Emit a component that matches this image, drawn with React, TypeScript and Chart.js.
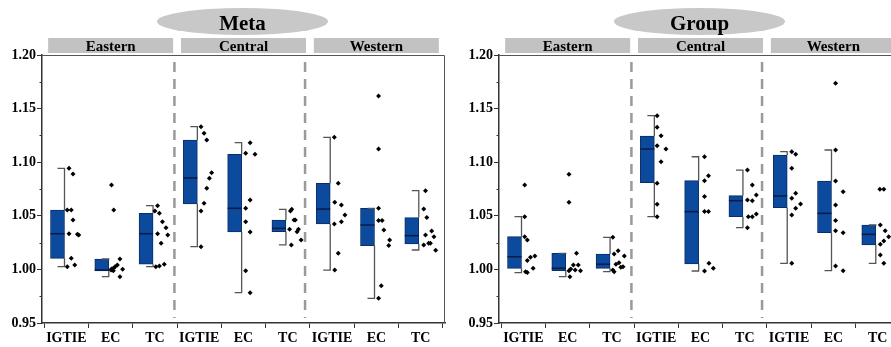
import React, { useEffect, useRef } from "react";
import { Chart, registerables } from "chart.js";

Chart.register(...registerables);

// ---------- data ----------
const categories = ["IGTIE", "EC", "TC", "IGTIE", "EC", "TC", "IGTIE", "EC", "TC"];
const regions = ["Eastern", "Central", "Western"];
const yMin = 0.95;
const yMax = 1.2;
const yStep = 0.025;

// Meta panel: box statistics per category
const metaLow = [1.0025, 0.9932, 1.0025, 1.0212, 0.9783, 1.0228, 0.9994, 0.973, 1.0181];
const metaQ1 = [1.0103, 0.9985, 1.0048, 1.061, 1.0349, 1.0352, 1.0424, 1.0222, 1.0237];
const metaMedian = [1.0333, 0.9994, 1.0333, 1.0853, 1.057, 1.0383, 1.0563, 1.0414, 1.0315];
const metaQ3 = [1.0554, 1.0097, 1.0523, 1.1207, 1.1074, 1.0461, 1.0803, 1.057, 1.0483];
const metaHigh = [1.0943, 1.0097, 1.0594, 1.1331, 1.1182, 1.056, 1.1232, 1.057, 1.0734];

const metaPoints = [
  [1.0943, 1.089, 1.0554, 1.0554, 1.0461, 1.0333, 1.0327, 1.0321, 1.0103, 1.0041, 1.0025],
  [1.0787, 1.0554, 1.0097, 1.0041, 1.0025, 1.001, 1.0004, 0.9995, 1.0001, 0.9988, 0.9932],
  [1.0594, 1.0545, 1.0523, 1.0445, 1.0389, 1.0333, 1.0321, 1.0243, 1.0025, 1.0031, 1.0048],
  [1.1331, 1.127, 1.1207, 1.0902, 1.085, 1.0756, 1.0616, 1.0545, 1.0212],
  [1.1182, 1.1083, 1.1074, 1.0647, 1.057, 1.0445, 1.0349, 0.9988, 0.9783],
  [1.056, 1.0545, 1.0461, 1.0461, 1.0374, 1.0374, 1.0352, 1.0274, 1.0228],
  [1.1232, 1.0803, 1.0626, 1.0601, 1.0507, 1.0445, 1.0424, 1.015, 0.9994],
  [1.1618, 1.1123, 1.057, 1.0455, 1.0455, 1.0368, 1.0274, 1.0222, 0.9848, 0.973],
  [1.0734, 1.0563, 1.0483, 1.0321, 1.0358, 1.0305, 1.0243, 1.0243, 1.0228, 1.0178],
];
const metaJitter = [
  [0.06, 0.15, 0.02, 0.11, 0.15, 0.06, 0.25, 0.28, 0.11, 0.19, 0.02],
  [0.02, 0.07, 0.21, 0.15, 0.1, 0.06, 0.02, 0.01, 0.27, 0.06, 0.21],
  [0.06, 0.0, 0.1, 0.17, 0.25, 0.06, 0.29, 0.14, 0.02, 0.1, 0.21],
  [0.04, 0.11, 0.17, 0.28, 0.23, 0.17, 0.11, 0.04, 0.04],
  [0.15, 0.05, 0.26, 0.15, 0.05, 0.05, 0.15, 0.05, 0.15],
  [0.09, 0.06, 0.14, 0.17, 0.04, 0.24, 0.21, 0.3, 0.08],
  [0.05, 0.14, 0.06, 0.21, 0.29, 0.21, 0.05, 0.14, 0.06],
  [0.05, 0.05, 0.05, 0.05, 0.13, 0.17, 0.3, 0.28, 0.11, 0.05],
  [0.11, 0.07, 0.14, 0.11, 0.25, 0.3, 0.18, 0.22, 0.07, 0.34],
];

// Group panel: box statistics per category
const groupLow = [0.997, 0.9932, 0.9979, 1.0492, 0.9985, 1.0389, 1.0057, 0.9988, 1.0057];
const groupQ1 = [1.001, 0.9988, 1.001, 1.0809, 1.005, 1.0492, 1.0576, 1.0343, 1.0228];
const groupMedian = [1.0118, 1.001, 1.0048, 1.1123, 1.0539, 1.0641, 1.0685, 1.0523, 1.0327];
const groupQ3 = [1.0305, 1.015, 1.0144, 1.1244, 1.0828, 1.0688, 1.1067, 1.0825, 1.0414];
const groupHigh = [1.0492, 1.015, 1.0299, 1.1434, 1.1051, 1.0927, 1.1098, 1.1114, 1.0414];

const groupPoints = [
  [1.0787, 1.0492, 1.0305, 1.0274, 1.0082, 1.0113, 1.0125, 1.001, 0.9979, 0.997],
  [1.0887, 1.0626, 1.015, 1.0041, 1.0041, 1.0004, 0.9988, 0.9994, 0.9988, 0.9932],
  [1.0299, 1.0144, 1.0175, 1.0125, 1.0048, 1.0063, 1.002, 1.0025, 0.9994, 0.9979],
  [1.1434, 1.1326, 1.1247, 1.1154, 1.1123, 1.1005, 1.0803, 1.0607, 1.0492],
  [1.1051, 1.0874, 1.0828, 1.0679, 1.0539, 1.0539, 1.0057, 1.001, 0.9985],
  [1.0927, 1.0787, 1.0694, 1.0647, 1.0641, 1.0517, 1.0492, 1.0492, 1.0389],
  [1.1098, 1.1074, 1.0943, 1.071, 1.0663, 1.061, 1.057, 1.0507, 1.0057],
  [1.1736, 1.1114, 1.0825, 1.0725, 1.0601, 1.0455, 1.0361, 1.0343, 1.0032, 0.9988],
  [1.0747, 1.0747, 1.0414, 1.0361, 1.0305, 1.0265, 1.0234, 1.0134, 1.0057],
];
const groupJitter = [
  [0.03, 0.03, 0.03, 0.09, 0.09, 0.16, 0.26, 0.22, 0.05, 0.09],
  [0.03, 0.03, 0.2, 0.13, 0.24, 0.07, 0.03, 0.17, 0.29, 0.05],
  [0.02, 0.05, 0.14, 0.28, 0.09, 0.16, 0.2, 0.25, 0.02, 0.05],
  [0.02, 0.02, 0.11, 0.02, 0.22, 0.11, 0.02, 0.02, 0.02],
  [0.09, 0.18, 0.09, 0.09, 0.09, 0.18, 0.19, 0.29, 0.09],
  [0.06, 0.17, 0.26, 0.06, 0.17, 0.26, 0.17, 0.08, 0.06],
  [0.06, 0.15, 0.06, 0.15, 0.06, 0.26, 0.15, 0.06, 0.06],
  [0.05, 0.05, 0.05, 0.22, 0.05, 0.05, 0.05, 0.22, 0.05, 0.22],
  [0.05, 0.14, 0.06, 0.17, 0.25, 0.14, 0.06, 0.06, 0.14],
];

// region separators (in x-axis units)
const dividers = [2.44, 5.39];

// ---------- style ----------
const FONT = '"Liberation Serif", "Times New Roman", serif';
const BOX_FILL = "#0c4a9d";
const BOX_EDGE = "#0a2d66";
const MEDIAN = "#081a45";
const WHISKER = "#555555";
const AXIS = "#333333";
const BOX_SHIFT = -0.2;
const BOX_W = 14;
const CAP_W = 7;
const CANVAS_W = 450;
const CANVAS_H = 347;

const isMajor = (n: number) => Math.abs(n * 20 - Math.round(n * 20)) < 1e-6;

type PanelProps = {
  title: string;
  low: number[];
  q1: number[];
  med: number[];
  q3: number[];
  high: number[];
  points: number[][];
  jitter: number[][];
  left: number;
};

function Panel({ title, low, q1, med, q3, high, points, jitter, left }: PanelProps) {
  const ref = useRef<HTMLCanvasElement>(null);

  useEffect(() => {
    if (!ref.current) return;

    const scatterData = points.flatMap((arr, i) =>
      arr.map((v, j) => ({ x: i + jitter[i][j], y: v }))
    );
    const boxData = q1.map((a, i) => ({ x: i + BOX_SHIFT, y: [a, q3[i]] }));

    const decor = {
      id: "panelDecor",
      beforeDatasetsDraw(chart: any) {
        const { ctx, chartArea, scales } = chart;
        ctx.save();
        ctx.strokeStyle = "#9a9a9a";
        ctx.lineWidth = 2.5;
        ctx.setLineDash([10, 7]);
        dividers.forEach((d) => {
          const x = scales.x.getPixelForValue(d);
          ctx.beginPath();
          ctx.moveTo(x, chartArea.top + 7);
          ctx.lineTo(x, chartArea.bottom - 5);
          ctx.stroke();
        });
        ctx.restore();
      },
      afterDatasetDraw(chart: any, args: any) {
        if (args.index !== 1) return;
        const { ctx, scales } = chart;
        const xs = scales.x;
        const ys = scales.y;
        ctx.save();
        ctx.setLineDash([]);
        for (let i = 0; i < q1.length; i++) {
          const cx = xs.getPixelForValue(i + BOX_SHIFT);
          const bl = cx - BOX_W / 2;
          const br = cx + BOX_W / 2;
          ctx.strokeStyle = WHISKER;
          ctx.lineWidth = 1.3;
          ctx.beginPath();
          ctx.moveTo(br, ys.getPixelForValue(high[i]));
          ctx.lineTo(br, ys.getPixelForValue(q3[i]));
          ctx.moveTo(br, ys.getPixelForValue(q1[i]));
          ctx.lineTo(br, ys.getPixelForValue(low[i]));
          const yh = ys.getPixelForValue(high[i]);
          const yl = ys.getPixelForValue(low[i]);
          ctx.moveTo(br - CAP_W, yh);
          ctx.lineTo(br + 0.6, yh);
          ctx.moveTo(br - CAP_W, yl);
          ctx.lineTo(br + 0.6, yl);
          ctx.stroke();
          ctx.strokeStyle = MEDIAN;
          ctx.lineWidth = 1.5;
          ctx.beginPath();
          const ym = ys.getPixelForValue(med[i]);
          ctx.moveTo(bl, ym);
          ctx.lineTo(br, ym);
          ctx.stroke();
        }
        ctx.restore();
      },
      afterDraw(chart: any) {
        const { ctx, chartArea, scales } = chart;
        const xs = scales.x;
        const ys = scales.y;
        ctx.save();
        // minor y ticks (shorter)
        ctx.strokeStyle = AXIS;
        ctx.lineWidth = 1;
        ctx.beginPath();
        for (let v = yMin + yStep; v < yMax; v += yStep * 2) {
          const y = Math.round(ys.getPixelForValue(v)) + 0.5;
          ctx.moveTo(chartArea.left - 2.5, y);
          ctx.lineTo(chartArea.left, y);
        }
        ctx.stroke();
        // frame (top and right)
        ctx.strokeStyle = "#555555";
        ctx.beginPath();
        ctx.moveTo(chartArea.left, chartArea.top + 0.5);
        ctx.lineTo(chartArea.right - 0.5, chartArea.top + 0.5);
        ctx.lineTo(chartArea.right - 0.5, chartArea.bottom);
        ctx.stroke();
        // region strips
        regions.forEach((r, k) => {
          const c = xs.getPixelForValue(3 * k + 1);
          ctx.fillStyle = "#c2c2c2";
          ctx.fillRect(c - 62.5, chartArea.top - 17, 125, 15);
          ctx.fillStyle = "#000";
          ctx.font = `bold 15px ${FONT}`;
          ctx.textAlign = "center";
          ctx.textBaseline = "alphabetic";
          ctx.fillText(r, c, chartArea.top - 4);
        });
        // title ellipse
        const ex = xs.getPixelForValue(4) - 1;
        ctx.fillStyle = "#c8c8c8";
        ctx.beginPath();
        ctx.ellipse(ex, 21.5, 85.5, 13.5, 0, 0, Math.PI * 2);
        ctx.fill();
        ctx.fillStyle = "#000";
        ctx.font = `bold 21px ${FONT}`;
        ctx.textAlign = "center";
        ctx.textBaseline = "alphabetic";
        ctx.fillText(title, ex, 29.5);
        ctx.restore();
      },
    };

    const tickFont = { family: FONT, size: 14, weight: "bold" as const };

    const chart = new Chart(ref.current, {
      type: "bar",
      data: {
        datasets: [
          {
            type: "scatter",
            label: "points",
            data: scatterData,
            pointStyle: "rectRot",
            radius: 2.5,
            backgroundColor: "#000",
            borderColor: "#000",
            borderWidth: 0,
            order: 1,
          } as any,
          {
            type: "bar",
            label: "box",
            data: boxData as any,
            backgroundColor: BOX_FILL,
            borderColor: BOX_EDGE,
            borderWidth: 1,
            borderSkipped: false,
            barThickness: BOX_W,
            order: 2,
          } as any,
        ],
      },
      options: {
        animation: false,
        responsive: false,
        maintainAspectRatio: false,
        devicePixelRatio: 1,
        layout: { padding: { top: 55, right: 5, left: 0, bottom: 0 } },
        plugins: {
          legend: { display: false },
          tooltip: { enabled: false },
          title: { display: false },
        },
        scales: {
          x: {
            type: "linear",
            min: -0.55,
            max: 8.55,
            offset: false,
            afterFit: (s: any) => {
              s.height = 24;
            },
            afterBuildTicks: (s: any) => {
              s.ticks = categories.map((_, i) => ({ value: i }));
            },
            ticks: {
              autoSkip: false,
              maxRotation: 0,
              padding: 2,
              color: "#000",
              font: tickFont,
              callback: (v: any) => categories[Math.round(Number(v))] ?? "",
            },
            grid: {
              display: true,
              drawOnChartArea: false,
              drawTicks: true,
              tickLength: 5,
              color: AXIS,
              lineWidth: 1,
            },
            border: { display: true, color: AXIS, width: 1.5 },
          },
          y: {
            type: "linear",
            min: yMin,
            max: yMax,
            afterFit: (s: any) => {
              s.width = 42;
            },
            ticks: {
              stepSize: yStep,
              autoSkip: false,
              padding: 1,
              color: "#000",
              font: tickFont,
              callback: (v: any) => {
                const n = Number(v);
                return isMajor(n) ? n.toFixed(2) : "";
              },
            },
            grid: {
              display: true,
              drawOnChartArea: false,
              drawTicks: true,
              tickLength: 5,
              color: (c: any) => (c.tick && isMajor(c.tick.value) ? AXIS : "rgba(0,0,0,0)"),
              lineWidth: 1,
            },
            border: { display: true, color: AXIS, width: 1.5 },
          },
        },
      },
      plugins: [decor],
    } as any);

    return () => chart.destroy();
  }, []);

  return (
    <div style={{ position: "absolute", left, top: 0, width: CANVAS_W, height: CANVAS_H }}>
      <canvas ref={ref} width={CANVAS_W} height={CANVAS_H} style={{ display: "block" }} />
    </div>
  );
}

export default function App() {
  return (
    <div
      style={{
        position: "fixed",
        left: 0,
        top: 0,
        width: 891,
        height: 347,
        overflow: "hidden",
        background: "#fff",
      }}
    >
      <Panel
        title="Meta"
        low={metaLow}
        q1={metaQ1}
        med={metaMedian}
        q3={metaQ3}
        high={metaHigh}
        points={metaPoints}
        jitter={metaJitter}
        left={0}
      />
      <Panel
        title="Group"
        low={groupLow}
        q1={groupQ1}
        med={groupMedian}
        q3={groupQ3}
        high={groupHigh}
        points={groupPoints}
        jitter={groupJitter}
        left={457}
      />
    </div>
  );
}
